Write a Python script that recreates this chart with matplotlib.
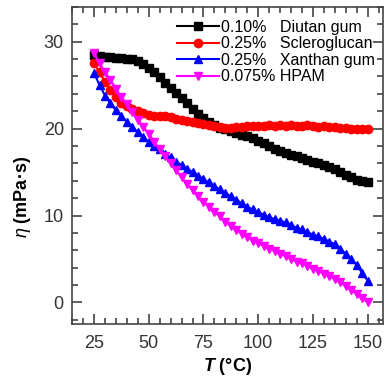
import numpy as np
from matplotlib import pyplot as plt
from matplotlib.ticker import MultipleLocator

plt.rcParams['font.family'] = ['Liberation Sans', 'DejaVu Sans']
plt.rcParams['mathtext.fontset'] = 'custom'
plt.rcParams['mathtext.it'] = 'Liberation Sans:italic'
plt.rcParams['mathtext.bf'] = 'Liberation Sans:bold'
plt.rcParams['mathtext.bfit'] = 'Liberation Sans:italic:bold'

# temperature (degC)
temp = [25, 27.5, 30, 32.5, 35, 37.5, 40, 42.5, 45, 47.5, 50, 52.5, 55, 57.5,
        60, 62.5, 65, 67.5, 70, 72.5, 75, 77.5, 80, 82.5, 85, 87.5, 90, 92.5,
        95, 97.5, 100, 102.5, 105, 107.5, 110, 112.5, 115, 117.5, 120, 122.5,
        125, 127.5, 130, 132.5, 135, 137.5, 140, 142.5, 145, 147.5, 150]

# viscosity (mPa.s)
diutan = [28.5, 28.3, 28.2, 28.2, 28.1, 28.1, 28.0, 28.0, 27.8, 27.4, 27.0,
          26.5, 25.9, 25.3, 24.7, 24.1, 23.5, 22.9, 22.3, 21.7, 21.2, 20.8,
          20.4, 20.1, 19.9, 19.7, 19.5, 19.3, 19.1, 18.9, 18.6, 18.3, 18.0,
          17.7, 17.4, 17.2, 17.0, 16.8, 16.6, 16.4, 16.2, 16.0, 15.8, 15.6,
          15.3, 15.0, 14.7, 14.4, 14.1, 14.0, 13.9]
sclero = [27.5, 26.5, 25.4, 24.4, 23.6, 23.0, 22.6, 22.3, 22.0, 21.8, 21.6,
          21.5, 21.5, 21.4, 21.3, 21.1, 21.0, 20.9, 20.8, 20.6, 20.5, 20.4,
          20.3, 20.2, 20.1, 20.1, 20.2, 20.2, 20.3, 20.3, 20.3, 20.3, 20.4,
          20.3, 20.4, 20.3, 20.4, 20.3, 20.3, 20.4, 20.3, 20.2, 20.3, 20.2,
          20.2, 20.1, 20.1, 20.0, 20.0, 19.9, 19.9]
xanthan = [26.4, 25.0, 23.8, 22.9, 22.1, 21.4, 20.8, 20.2, 19.6, 19.0, 18.5,
           18.0, 17.6, 17.1, 16.7, 16.2, 15.8, 15.4, 15.0, 14.6, 14.2, 13.8,
           13.4, 13.0, 12.6, 12.2, 11.8, 11.4, 11.0, 10.7, 10.4, 10.1, 9.8,
           9.6, 9.4, 9.2, 8.9, 8.6, 8.4, 8.1, 7.8, 7.6, 7.3, 7.0, 6.7, 6.2,
           5.6, 5.0, 4.3, 3.4, 2.5]
hpam = [28.7, 27.5, 26.5, 25.6, 24.6, 23.6, 22.8, 21.9, 21.0, 20.2, 19.4,
        18.5, 17.6, 16.8, 16.0, 15.2, 14.4, 13.6, 12.9, 12.2, 11.6, 11.0,
        10.4, 9.9, 9.3, 8.8, 8.3, 7.9, 7.5, 7.1, 6.8, 6.5, 6.2, 5.9, 5.6,
        5.3, 5.0, 4.7, 4.5, 4.2, 3.9, 3.6, 3.3, 3.0, 2.7, 2.3, 1.9, 1.4,
        1.0, 0.5, 0.0]

labels = ["0.10%   Diutan gum", "0.25%   Scleroglucan",
          "0.25%   Xanthan gum", "0.075% HPAM"]
series = [diutan, sclero, xanthan, hpam]
colors = ["black", "red", "blue", "magenta"]
markers = ["s", "o", "^", "v"]

fig = plt.figure(figsize=(3.9, 3.85), dpi=100)
ax = fig.add_axes([0.185, 0.158, 0.797, 0.824])

for y, c, m, lab in zip(series, colors, markers, labels):
    ax.plot(temp, y, color=c, marker=m, markersize=6, linewidth=1.5,
            label=lab)

ax.set_xlim(15, 157)
ax.set_ylim(-2.5, 34)
ax.set_xticks([25, 50, 75, 100, 125, 150])
ax.set_yticks([0, 10, 20, 30])
ax.xaxis.set_minor_locator(MultipleLocator(5))
ax.yaxis.set_minor_locator(MultipleLocator(2))
ax.tick_params(which='both', direction='in', top=True, right=True,
               colors='#444444', labelcolor='#333333', width=1.2)
ax.tick_params(which='major', length=7, labelsize=13)
ax.tick_params(which='minor', length=4)
ax.tick_params(axis='x', which='major', pad=8)
ax.tick_params(axis='y', which='major', pad=6)
for sp in ax.spines.values():
    sp.set_color('#444444')
    sp.set_linewidth(1.2)

ax.set_xlabel(r"$\mathbfit{T}$ (°C)", fontsize=13, fontweight='bold',
              labelpad=3)
ax.set_ylabel(r"$\mathit{\eta}$ (mPa·s)", fontsize=13, fontweight='bold')
ax.yaxis.set_label_coords(-0.125, 0.40)

ax.legend(loc='upper right', frameon=False, fontsize=11.5, handlelength=2.6,
          handletextpad=0.15, labelspacing=0.1, borderaxespad=0.1,
          bbox_to_anchor=(1.0, 0.985))

plt.savefig("out.png", dpi=100)
